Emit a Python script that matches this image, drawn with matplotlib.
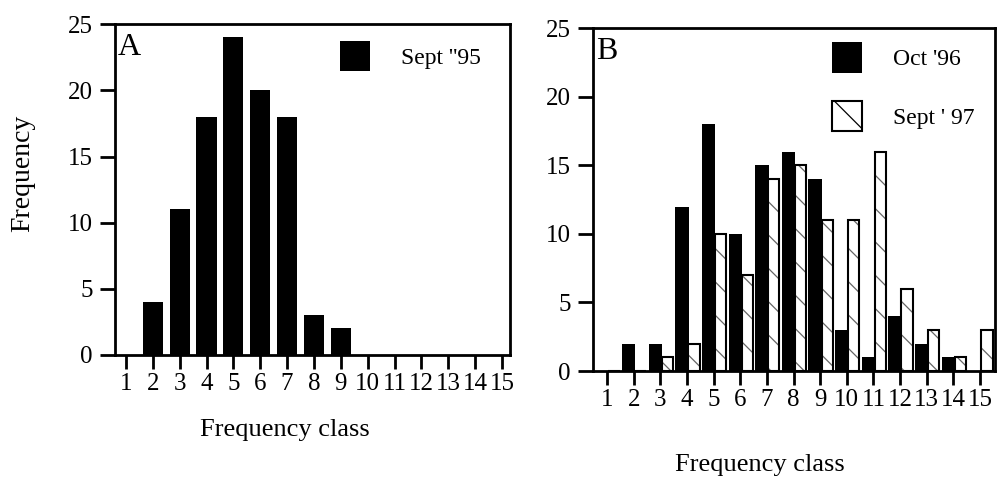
import numpy as np
import matplotlib
matplotlib.use('Agg')
import matplotlib.pyplot as plt
from matplotlib.patches import Patch

plt.rcParams['font.family'] = ['Liberation Serif', 'DejaVu Serif']
plt.rcParams['hatch.linewidth'] = 0.9

classes = np.arange(1, 16)
sept95 = [0, 4, 11, 18, 24, 20, 18, 3, 2, 0, 0, 0, 0, 0, 0]
oct96 = [0, 2, 2, 12, 18, 10, 15, 16, 14, 3, 1, 4, 2, 1, 0]
sept97 = [0, 0, 1, 2, 10, 7, 14, 15, 11, 11, 16, 6, 3, 1, 3]
yticks = [0, 5, 10, 15, 20, 25]

fig = plt.figure(figsize=(10.04, 4.95), dpi=100)
axA = fig.add_axes([0.1145, 0.283, 0.3935, 0.668])
axB = fig.add_axes([0.5906, 0.2505, 0.4004, 0.692])


def style(ax, xlo, xhi):
    ax.set_xlim(xlo, xhi)
    ax.set_ylim(0, 25)
    ax.set_xticks(classes)
    ax.set_yticks(yticks)
    ax.tick_params(direction='out', length=10, width=2, labelsize=18,
                   pad=3, colors='black')
    ax.tick_params(axis='y', length=11, pad=5)
    for s in ax.spines.values():
        s.set_linewidth(2)


leg_kw = dict(frameon=False, fontsize=17, handlelength=1.27,
              handleheight=1.6, handletextpad=1.3, borderpad=0,
              borderaxespad=0, loc='upper left')

# panel A
axA.bar(classes, sept95, width=0.75, color='black', label="Sept ''95")
style(axA, 0.59, 15.3)
axA.text(0.008, 0.975, 'A', transform=axA.transAxes, fontsize=23,
         va='top', ha='left')
axA.legend(bbox_to_anchor=(0.57, 0.95), **leg_kw)

# panel B
axB.bar(classes - 0.19, oct96, width=0.5, color='black', label="Oct '96")
axB.bar(classes + 0.26, sept97, width=0.42, color='white', edgecolor='0.4',
        hatch='\\', linewidth=0)
axB.bar(classes + 0.26, sept97, width=0.42, fill=False, edgecolor='black',
        linewidth=1.5)
style(axB, 0.47, 15.56)
axB.text(0.008, 0.975, 'B', transform=axB.transAxes, fontsize=23,
         va='top', ha='left')
h = [Patch(facecolor='black', label="Oct '96"),
     Patch(facecolor='white', edgecolor='black', hatch='\\', linewidth=1.5,
           label="Sept ' 97")]
axB.legend(handles=h, labelspacing=1.2, bbox_to_anchor=(0.595, 0.96),
           **leg_kw)

fig.text(0.023, 0.65, 'Frequency', rotation=90, fontsize=20,
         ha='center', va='center')
fig.text(0.284, 0.131, 'Frequency class', fontsize=19, ha='center', va='center')
fig.text(0.757, 0.06, 'Frequency class', fontsize=19, ha='center', va='center')

fig.savefig('out.png', dpi=100)
